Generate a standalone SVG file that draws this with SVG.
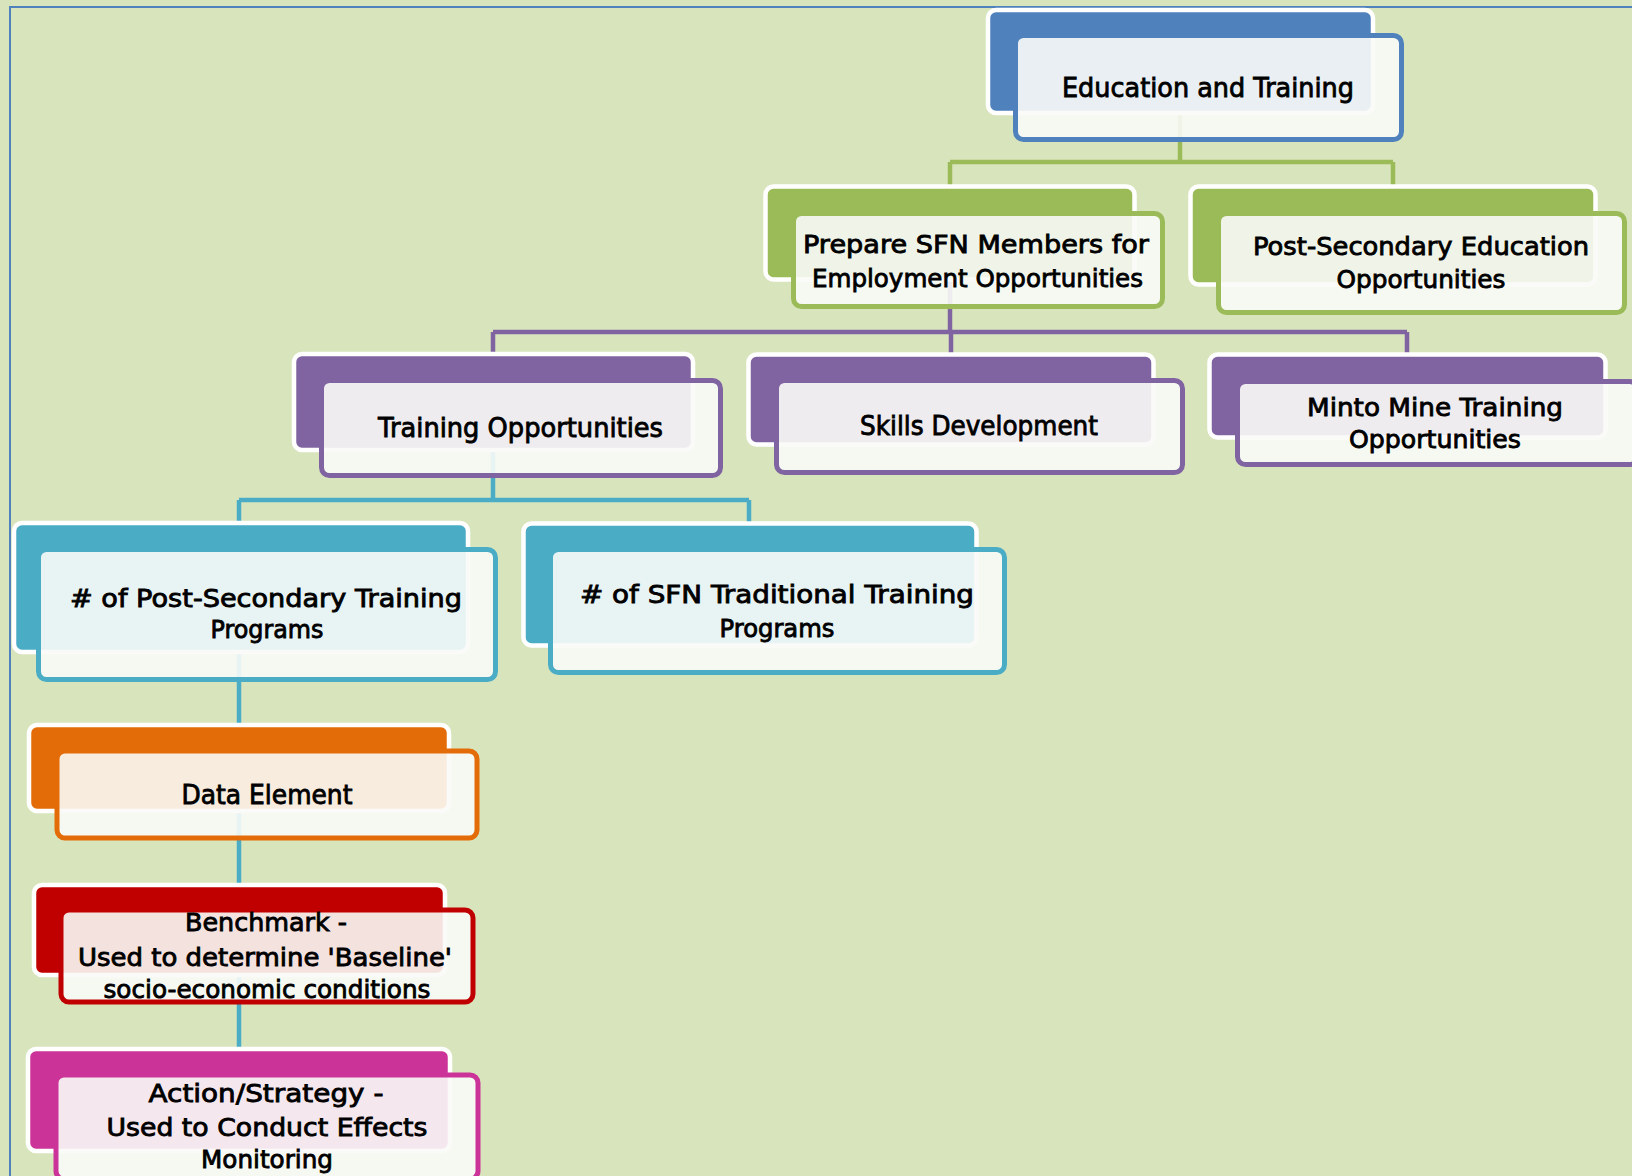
<svg xmlns="http://www.w3.org/2000/svg" width="1632" height="1176" viewBox="0 0 1632 1176">
<style>
.bk{stroke:#FFFFFF;stroke-width:4.5}
.fr{fill:#FAFBF7;fill-opacity:0.9;stroke-width:5}
.t{font-family:"DejaVu Sans","Liberation Sans",sans-serif;font-size:25px;fill:#000;stroke:#000;stroke-width:0.85;text-anchor:middle}
.t1{font-size:26.5px}
.con{fill:none;stroke-width:4.5}
</style>
<rect x="0" y="0" width="1632" height="1176" fill="#D8E4BC"/>
<rect x="10" y="7" width="1700" height="1300" fill="none" stroke="#4F81BD" stroke-width="2"/>

<g id="connectors">
  <path class="con" stroke="#9BBB59" d="M1180,113 V162 M950,162 H1393 M950,162 V188 M1393,162 V188"/>
  <path class="con" stroke="#8064A2" d="M950,280 V332 M493,332 H1407 M493,332 V356 M951,332 V356 M1407,332 V356"/>
  <path class="con" stroke="#4BACC6" d="M493,450 V500 M239,500 H749 M239,500 V525 M749,500 V525 M239,650 V1050"/>
</g>

<g id="node-education">
  <rect class="bk" x="988" y="10" width="385" height="103" rx="8" fill="#4F81BD"/>
  <rect class="fr" x="1015.5" y="35.5" width="386" height="104" rx="8" stroke="#4F81BD"/>
  <text class="t t1" x="1208" y="97" textLength="292" lengthAdjust="spacingAndGlyphs">Education and Training</text>
</g>

<g id="node-prepare">
  <rect class="bk" x="765.5" y="186.5" width="369" height="93" rx="8" fill="#9BBB59"/>
  <rect class="fr" x="793.5" y="213.5" width="369" height="93" rx="8" stroke="#9BBB59"/>
  <text class="t" x="976" y="253" textLength="346" lengthAdjust="spacingAndGlyphs">Prepare SFN Members for</text>
  <text class="t" x="977.5" y="287" textLength="331" lengthAdjust="spacingAndGlyphs">Employment Opportunities</text>
</g>

<g id="node-postsec-edu">
  <rect class="bk" x="1190.5" y="186.5" width="405" height="98" rx="8" fill="#9BBB59"/>
  <rect class="fr" x="1218.5" y="213.5" width="406" height="99" rx="8" stroke="#9BBB59"/>
  <text class="t" x="1421" y="255" textLength="336" lengthAdjust="spacingAndGlyphs">Post-Secondary Education</text>
  <text class="t" x="1421" y="288" textLength="169" lengthAdjust="spacingAndGlyphs">Opportunities</text>
</g>

<g id="node-training-opp">
  <rect class="bk" x="294" y="354" width="399" height="96" rx="8" fill="#8064A2"/>
  <rect class="fr" x="321.5" y="380.5" width="399" height="95" rx="8" stroke="#8064A2"/>
  <text class="t t1" x="520.5" y="437" textLength="285" lengthAdjust="spacingAndGlyphs">Training Opportunities</text>
</g>

<g id="node-skills">
  <rect class="bk" x="748.5" y="354.5" width="405" height="90" rx="8" fill="#8064A2"/>
  <rect class="fr" x="776.5" y="380.5" width="406" height="92" rx="8" stroke="#8064A2"/>
  <text class="t t1" x="979" y="435" textLength="238" lengthAdjust="spacingAndGlyphs">Skills Development</text>
</g>

<g id="node-minto">
  <rect class="bk" x="1209.5" y="354.5" width="396" height="83" rx="8" fill="#8064A2"/>
  <rect class="fr" x="1237.5" y="381.5" width="400" height="83" rx="8" stroke="#8064A2"/>
  <text class="t" x="1435" y="416" textLength="256" lengthAdjust="spacingAndGlyphs">Minto Mine Training</text>
  <text class="t" x="1435" y="448" textLength="172" lengthAdjust="spacingAndGlyphs">Opportunities</text>
</g>

<g id="node-postsec-programs">
  <rect class="bk" x="14" y="523" width="454" height="129" rx="8" fill="#4BACC6"/>
  <rect class="fr" x="38.5" y="549.5" width="457" height="130" rx="8" stroke="#4BACC6"/>
  <text class="t" x="266" y="607" textLength="392" lengthAdjust="spacingAndGlyphs"># of Post-Secondary Training</text>
  <text class="t" x="267" y="638" textLength="113" lengthAdjust="spacingAndGlyphs">Programs</text>
</g>

<g id="node-sfn-programs">
  <rect class="bk" x="523.5" y="523.5" width="453" height="122" rx="8" fill="#4BACC6"/>
  <rect class="fr" x="550.5" y="549.5" width="454" height="123" rx="8" stroke="#4BACC6"/>
  <text class="t" x="777" y="603" textLength="394" lengthAdjust="spacingAndGlyphs"># of SFN Traditional Training</text>
  <text class="t" x="777" y="637" textLength="115" lengthAdjust="spacingAndGlyphs">Programs</text>
</g>

<g id="node-data-element">
  <rect class="bk" x="29" y="725" width="420" height="86" rx="8" fill="#E36C09"/>
  <rect class="fr" x="57" y="751" width="420" height="87" rx="8" stroke="#E36C09"/>
  <text class="t t1" x="267" y="804" textLength="171" lengthAdjust="spacingAndGlyphs">Data Element</text>
</g>

<g id="node-benchmark">
  <rect class="bk" x="34" y="885" width="411" height="90" rx="8" fill="#C00000"/>
  <rect class="fr" x="61" y="910" width="412" height="92" rx="8" stroke="#C00000"/>
  <text class="t" x="266" y="931" textLength="162" lengthAdjust="spacingAndGlyphs">Benchmark -</text>
  <text class="t" x="265" y="966" textLength="374" lengthAdjust="spacingAndGlyphs">Used to determine 'Baseline'</text>
  <text class="t" x="267" y="998" textLength="327" lengthAdjust="spacingAndGlyphs">socio-economic conditions</text>
</g>

<g id="node-action">
  <rect class="bk" x="28" y="1049" width="422" height="102" rx="8" fill="#CC3399"/>
  <rect class="fr" x="56" y="1075" width="422" height="104" rx="8" stroke="#CC3399"/>
  <text class="t" x="266" y="1102" textLength="235" lengthAdjust="spacingAndGlyphs">Action/Strategy -</text>
  <text class="t" x="267" y="1136" textLength="321" lengthAdjust="spacingAndGlyphs">Used to Conduct Effects</text>
  <text class="t" x="267" y="1168" textLength="132" lengthAdjust="spacingAndGlyphs">Monitoring</text>
</g>
</svg>
